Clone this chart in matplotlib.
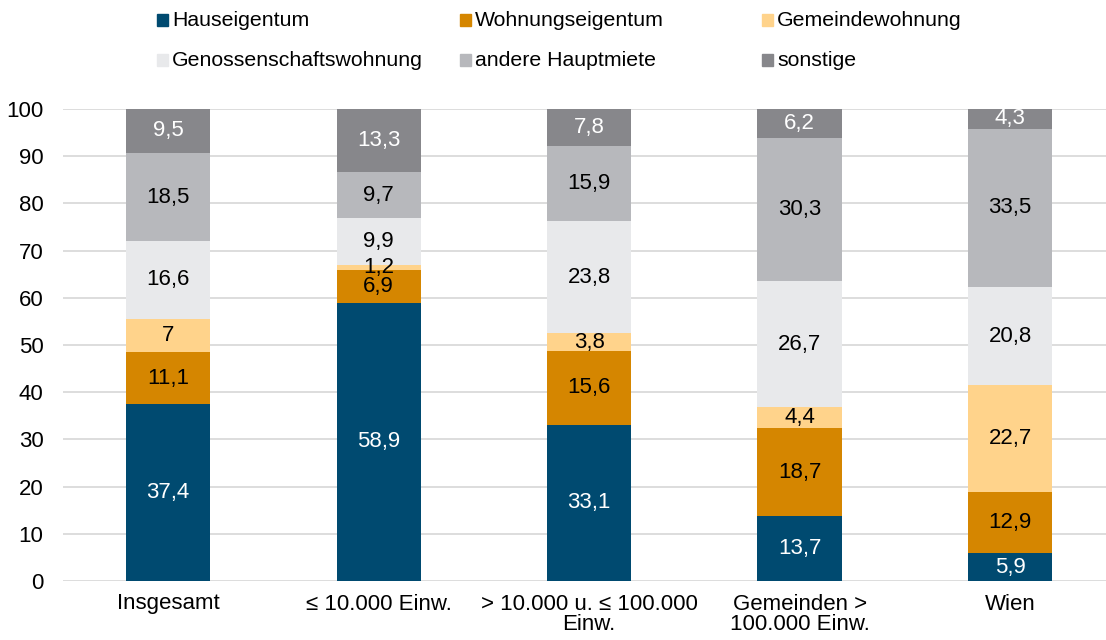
import matplotlib.pyplot as plt
import numpy as np
from matplotlib.patches import Rectangle

plt.rcParams['font.family'] = ['Liberation Sans', 'DejaVu Sans']

categories = ['Insgesamt', '≤ 10.000 Einw.', '> 10.000 u. ≤ 100.000\nEinw.',
              'Gemeinden >\n100.000 Einw.', 'Wien']
series = ['Hauseigentum', 'Wohnungseigentum', 'Gemeindewohnung',
          'Genossenschaftswohnung', 'andere Hauptmiete', 'sonstige']

hauseigentum = [37.4, 58.9, 33.1, 13.7, 5.9]
wohnungseigentum = [11.1, 6.9, 15.6, 18.7, 12.9]
gemeindewohnung = [7.0, 1.2, 3.8, 4.4, 22.7]
genossenschaft = [16.6, 9.9, 23.8, 26.7, 20.8]
andere_hauptmiete = [18.5, 9.7, 15.9, 30.3, 33.5]
sonstige = [9.5, 13.3, 7.8, 6.2, 4.3]

data = [hauseigentum, wohnungseigentum, gemeindewohnung,
        genossenschaft, andere_hauptmiete, sonstige]
colors = ['#004A70', '#D58600', '#FFD38B', '#E8E9EB', '#B7B8BC', '#87878B']
text_colors = ['white', 'black', 'black', 'black', 'black', 'white']

fig = plt.figure(figsize=(11.06, 6.4), dpi=100)
ax = fig.add_axes([63 / 1106, 1 - 581 / 640, 1 - 63 / 1106, (581 - 109) / 640])

x = np.arange(len(categories))
bottom = np.zeros(len(categories))
for vals, col, tcol in zip(data, colors, text_colors):
    vals = np.array(vals)
    ax.bar(x, vals, 0.4, bottom=bottom, color=col, zorder=3)
    for xi, b, v in zip(x, bottom, vals):
        ax.text(xi, b + v / 2, f'{v:g}'.replace('.', ','), ha='center', va='center',
                fontsize=16, color=tcol, zorder=4)
    bottom += vals

ax.set_ylim(0, 100)
ax.set_xlim(-0.5, 4.456)
ax.set_yticks(range(0, 101, 10))
ax.set_xticks(x)
ax.set_xticklabels(categories, fontsize=16, linespacing=1.0)
ax.tick_params(axis='y', length=0, labelsize=16, pad=14)
ax.tick_params(axis='x', length=0, pad=9)
ax.grid(axis='y', color='#DADADA', linewidth=1.3, zorder=0)
for s in ax.spines.values():
    s.set_visible(False)

# legend, 3 columns x 2 rows
col_x = [157, 460, 762]
row_y = [20, 60]
for i, (name, col) in enumerate(zip(series, colors)):
    cx = col_x[i % 3]
    cy = row_y[i // 3]
    fig.add_artist(Rectangle((cx / 1106, 1 - (cy + 6) / 640), 11 / 1106, 12 / 640,
                             transform=fig.transFigure, color=col))
    fig.text((cx + 15) / 1106, 1 - cy / 640, name, fontsize=15.3, va='center', ha='left')

fig.savefig('out.png', dpi=100)
